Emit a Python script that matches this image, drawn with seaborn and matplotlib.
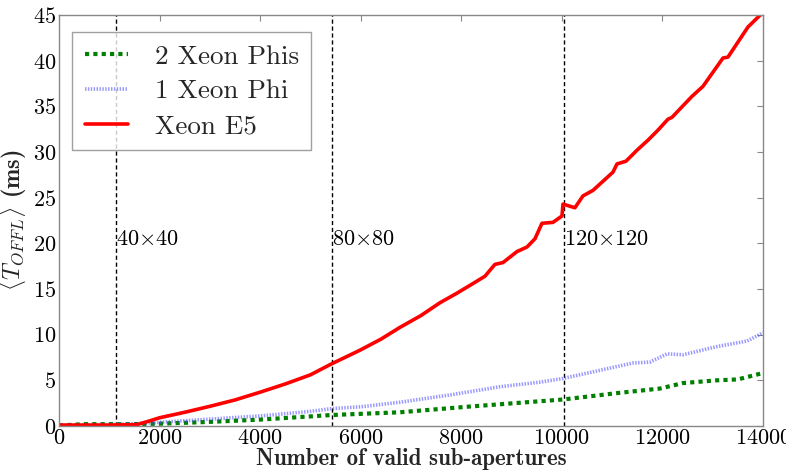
import numpy as np
import pandas as pd
import matplotlib
matplotlib.use("Agg")
import matplotlib.pyplot as plt
import seaborn as sns

# ---------------- data ----------------
red_x = [0, 500, 1000, 1550, 1800, 2000, 2500, 3000, 3500, 4000, 4500, 5000, 5420,
         5986, 6400, 6781, 7200, 7577, 7900, 8173, 8471, 8670, 8830, 9108, 9307,
         9466, 9605, 9824, 10003, 10023, 10261, 10420, 10619, 11017, 11097, 11276,
         11494, 11713, 11912, 12111, 12190, 12588, 12807, 13205, 13304, 13702, 14000]
red_y = [0.1, 0.1, 0.1, 0.15, 0.55, 0.9, 1.5, 2.15, 2.85, 3.7, 4.6, 5.6, 6.8,
         8.3, 9.5, 10.8, 12.1, 13.5, 14.5, 15.4, 16.4, 17.7, 17.9, 19.1, 19.6,
         20.5, 22.2, 22.3, 23.0, 24.3, 23.9, 25.2, 25.8, 27.8, 28.7, 29.0,
         30.2, 31.3, 32.4, 33.6, 33.8, 36.1, 37.2, 40.3, 40.4, 43.7, 45.3]

blue_x = [0, 1000, 1500, 2000, 3000, 4000, 5000, 5420, 6000, 6780, 7775, 8770,
          9565, 10023, 10759, 11415, 11753, 12091, 12409, 13085, 13682, 14000]
blue_y = [0.1, 0.15, 0.25, 0.4, 0.75, 1.1, 1.6, 1.9, 2.1, 2.6, 3.4, 4.3,
          4.8, 5.2, 6.1, 6.9, 7.0, 7.9, 7.8, 8.7, 9.3, 10.2]

green_x = [0, 500, 1500, 2000, 3000, 4000, 5000, 5420, 6780, 8100, 10023, 11097,
           11952, 12409, 13085, 13500, 14000]
green_y = [0.05, 0.2, 0.2, 0.25, 0.45, 0.7, 1.05, 1.2, 1.5, 2.1, 2.9, 3.6,
           4.1, 4.7, 5.0, 5.1, 5.8]

series_labels = ["2 Xeon Phis", "1 Xeon Phi", "Xeon E5"]
vline_x = [1140, 5420, 10040]
vline_labels = [r"40$\times$40", r"80$\times$80", r"120$\times$120"]
label_y = 20.4

x_ticks = [0, 2000, 4000, 6000, 8000, 10000, 12000, 14000]
y_ticks = [0, 5, 10, 15, 20, 25, 30, 35, 40, 45]

# ---------------- style ----------------
sns.set_theme(style="white")
plt.rcParams["font.family"] = ["cmr10", "DejaVu Serif"]
plt.rcParams["mathtext.fontset"] = "cm"
plt.rcParams["axes.formatter.use_mathtext"] = True
plt.rcParams["axes.unicode_minus"] = False

fig = plt.figure(figsize=(7.86, 4.72), dpi=100)
ax = fig.add_axes([0.075, 0.0975, 0.8957, 0.8705])

df_g = pd.DataFrame({"x": green_x, "y": green_y})
df_b = pd.DataFrame({"x": blue_x, "y": blue_y})
df_r = pd.DataFrame({"x": red_x, "y": red_y})

sns.lineplot(data=df_g, x="x", y="y", ax=ax, color="green", lw=3.0,
             label=series_labels[0], estimator=None, sort=False)
sns.lineplot(data=df_b, x="x", y="y", ax=ax, color="#4444ff", lw=2.6, alpha=0.55,
             label=series_labels[1], estimator=None, sort=False)
sns.lineplot(data=df_r, x="x", y="y", ax=ax, color="red", lw=2.6,
             label=series_labels[2], estimator=None, sort=False)

lines = ax.get_lines()
lines[0].set_dashes((1.0, 1.0))
lines[1].set_dashes((0.4, 0.4))

for xv, lab in zip(vline_x, vline_labels):
    ax.axvline(xv, color="black", lw=1.0, ls=(0, (3, 2)), zorder=1)
    ax.text(xv, label_y, lab, fontsize=16, va="center", ha="left", color="black")

ax.set_xlim(0, 14000)
ax.set_ylim(0, 45)
ax.set_xticks(x_ticks)
ax.set_yticks(y_ticks)
ax.tick_params(axis="both", which="both", direction="in", length=4, width=0.8,
               color="#888888", labelsize=16, labelcolor="black",
               top=True, right=True, pad=2)
for sp in ax.spines.values():
    sp.set_color("#888888")
    sp.set_linewidth(1.0)

ax.set_xlabel("Number of valid sub-apertures", fontsize=16.5, fontfamily="cmb10",
              labelpad=0)
ax.set_ylabel(r"$\langle T_{OFFL}\rangle$ (ms)", fontsize=17.5, fontfamily="cmb10",
              labelpad=3)

leg = ax.legend(loc="upper left", bbox_to_anchor=(0.019, 0.958), fontsize=19.5,
                frameon=True, fancybox=False, shadow=False, borderpad=0.45,
                handlelength=1.6, handletextpad=1.0, labelspacing=0.4,
                borderaxespad=0)
leg.get_frame().set_edgecolor("#888888")
leg.get_frame().set_linewidth(1.0)

fig.savefig("out.png", dpi=100)
